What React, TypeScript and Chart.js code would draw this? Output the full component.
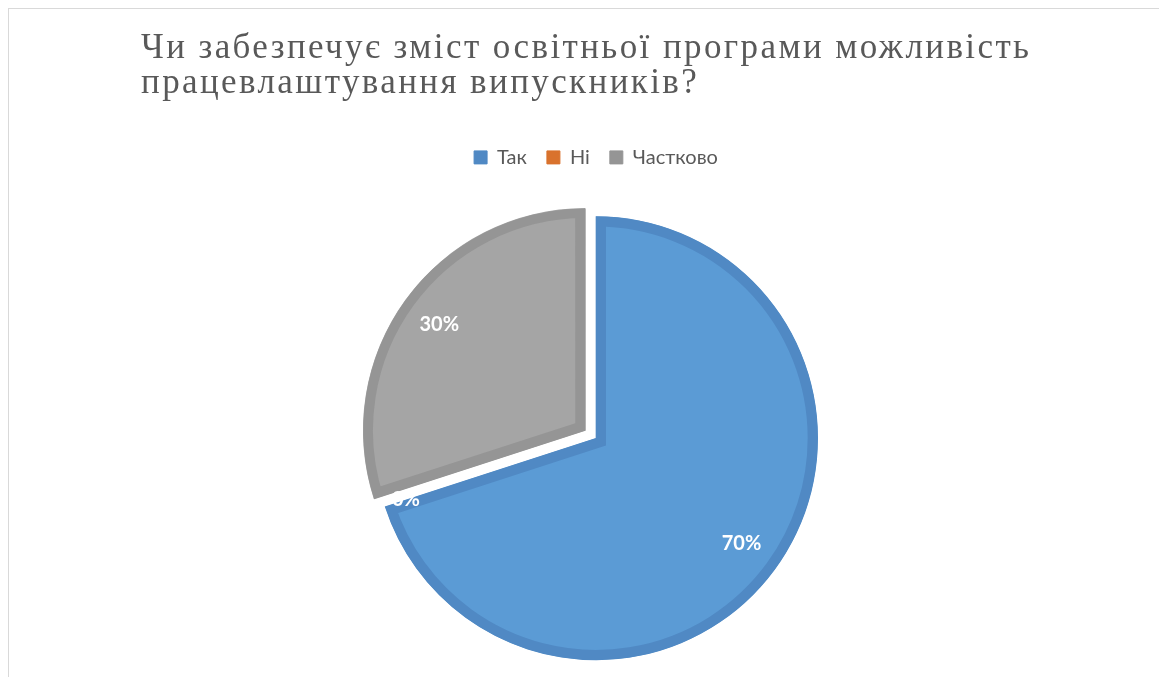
import React, { useEffect, useRef } from "react";
import { Chart, registerables } from "chart.js";

Chart.register(...registerables);

const titleLines = [
  "Чи забезпечує зміст освітньої програми можливість",
  "працевлаштування випускників?",
];
const categories = ["Так", "Ні", "Частково"];
const values = [70, 0, 30];
const fillColors = ["#5B9BD5", "#ED7D31", "#A5A5A5"];
const borderColors = ["#5089C4", "#D9722D", "#959595"];
const explodeOffsets = [0, 0, 53];

const W = 1159;
const H = 700;

const total = values.reduce((a, b) => a + b, 0);
const percentLabels = values.map((v) => `${Math.round((v / total) * 100)}%`);

const titleSpacingPlugin = {
  id: "titleSpacing",
  beforeDraw(chart: any) {
    const t = chart.titleBlock;
    if (t && !t.__spaced) {
      const orig = t.draw.bind(t);
      t.draw = (...args: any[]) => {
        const ctx = chart.ctx;
        ctx.save();
        (ctx as any).letterSpacing = "2.4px";
        orig(...args);
        ctx.restore();
      };
      t.__spaced = true;
    }
  },
};

const sliceLabelPlugin = {
  id: "sliceLabels",
  afterDatasetsDraw(chart: any) {
    const ctx = chart.ctx;
    const meta = chart.getDatasetMeta(0);
    ctx.save();
    ctx.font = "bold 20px Lato";
    ctx.fillStyle = "#FFFFFF";
    ctx.textAlign = "center";
    ctx.textBaseline = "middle";
    meta.data.forEach((arc: any, i: number) => {
      const p = arc.getProps(
        ["x", "y", "startAngle", "endAngle", "outerRadius", "circumference"],
        true
      );
      const mid = (p.startAngle + p.endAngle) / 2;
      const off = (explodeOffsets[i] || 0) / 4;
      const fix = 1 - Math.sin(Math.min(Math.PI, p.circumference || 0));
      const shift = off + off * fix;
      const r = p.outerRadius * (values[i] === 0 ? 0.9 : 0.81);
      ctx.fillText(
        percentLabels[i],
        p.x + Math.cos(mid) * (shift + r),
        p.y + Math.sin(mid) * (shift + r)
      );
    });
    ctx.restore();
  },
};

export default function App() {
  const canvasRef = useRef<HTMLCanvasElement | null>(null);

  useEffect(() => {
    if (!canvasRef.current) return;
    const chart = new Chart(canvasRef.current, {
      type: "pie",
      data: {
        labels: categories,
        datasets: [
          {
            data: values,
            backgroundColor: fillColors,
            borderColor: borderColors,
            borderWidth: 10,
            borderAlign: "inner",
            borderJoinStyle: "miter",
            offset: explodeOffsets,
            hoverOffset: 0,
          } as any,
        ],
      },
      options: {
        animation: false,
        responsive: false,
        maintainAspectRatio: false,
        radius: 222,
        layout: { padding: { left: 141, right: 108, top: 0, bottom: 1 } },
        plugins: {
          title: {
            display: true,
            text: titleLines,
            align: "start",
            color: "#595959",
            font: {
              family: "'Liberation Serif', 'Times New Roman', serif",
              size: 35,
              weight: "normal",
              lineHeight: 1.0,
            },
            padding: { top: 31.7, bottom: 25.7 },
          },
          legend: {
            position: "top",
            labels: {
              color: "#595959",
              font: { family: "Lato", size: 20 },
              boxWidth: 13,
              boxHeight: 13,
              padding: 20,
              generateLabels: () =>
                categories.map((name, i) => ({
                  text: name,
                  fillStyle: borderColors[i],
                  strokeStyle: borderColors[i],
                  lineWidth: 1,
                  fontColor: "#595959",
                  hidden: false,
                  index: i,
                })),
            },
          },
          tooltip: { enabled: false },
        },
      } as any,
      plugins: [titleSpacingPlugin, sliceLabelPlugin],
    });
    return () => chart.destroy();
  }, []);

  return (
    <div
      style={{
        position: "fixed",
        left: 0,
        top: 0,
        width: W,
        height: 677,
        overflow: "hidden",
        background: "#FFFFFF",
      }}
    >
      <div
        style={{
          position: "absolute",
          left: 8,
          top: 8,
          width: 1200,
          height: 720,
          border: "1px solid #D9D9D9",
          boxSizing: "border-box",
        }}
      />
      <canvas
        ref={canvasRef}
        width={W}
        height={H}
        style={{ position: "absolute", left: 0, top: 0, width: W, height: H }}
      />
    </div>
  );
}
